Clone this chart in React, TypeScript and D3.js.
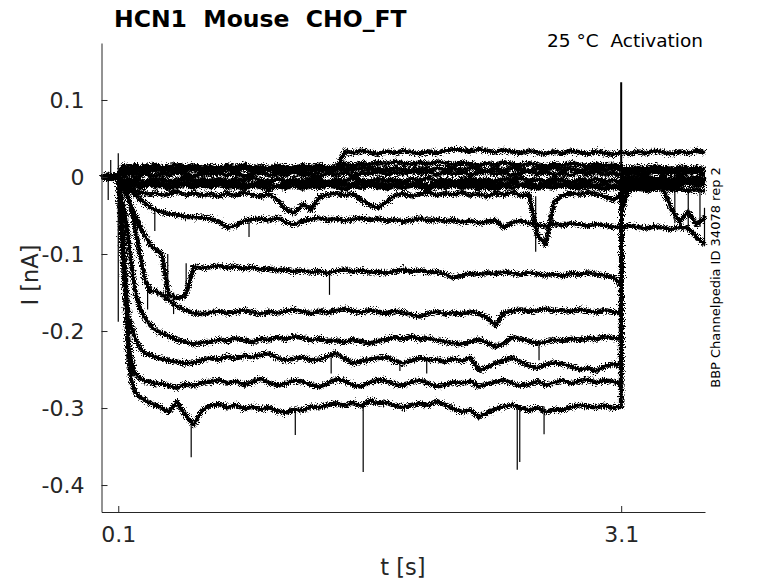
import { useEffect, useRef } from 'react';
import * as d3 from 'd3';

// sample times [s] shared by all sweeps
const time = [
  0, 0.025, 0.05, 0.075, 0.1,
  0.12, 0.14, 0.16, 0.18, 0.2, 0.23, 0.26, 0.29, 0.32, 0.36, 0.4, 0.45, 0.5, 0.55, 0.6,
  0.65, 0.7, 0.75, 0.8, 0.85, 0.9, 0.95, 1.0, 1.05, 1.1,
  1.15, 1.2, 1.25, 1.3, 1.35, 1.4, 1.45, 1.5, 1.55, 1.6,
  1.65, 1.7, 1.75, 1.8, 1.85, 1.9, 1.95, 2.0, 2.05, 2.1,
  2.15, 2.2, 2.25, 2.3, 2.35, 2.4, 2.45, 2.5, 2.55, 2.6,
  2.65, 2.7, 2.75, 2.8, 2.85, 2.9, 2.95, 3.0, 3.05, 3.1,
  3.102, 3.15, 3.2, 3.25, 3.3, 3.35, 3.4, 3.45, 3.5, 3.55, 3.6,
];

// current [nA], one array per sweep
const sweep1 = [
  0.001, -0.002, 0.002, -0.001, 0.0,
  -0.082, -0.147, -0.231, -0.266, -0.279, -0.286, -0.29, -0.294, -0.296, -0.3, -0.305, -0.292, -0.309, -0.322, -0.303,
  -0.297, -0.295, -0.299, -0.296, -0.301, -0.298, -0.302, -0.299, -0.304, -0.306,
  -0.302, -0.303, -0.298, -0.299, -0.296, -0.294, -0.297, -0.293, -0.298, -0.29,
  -0.294, -0.293, -0.297, -0.299, -0.296, -0.294, -0.297, -0.291, -0.296, -0.301,
  -0.305, -0.303, -0.312, -0.306, -0.301, -0.298, -0.296, -0.3, -0.303, -0.299,
  -0.305, -0.302, -0.303, -0.299, -0.296, -0.298, -0.299, -0.297, -0.3, -0.298,
  -0.045, -0.012, -0.008, -0.011, -0.006, -0.009, -0.007, -0.01, -0.005, -0.008, -0.006,
];
const sweep2 = [
  -0.001, 0.002, -0.002, 0.001, 0.0,
  -0.069, -0.14, -0.212, -0.24, -0.255, -0.262, -0.265, -0.266, -0.269, -0.268, -0.271, -0.274, -0.269, -0.271, -0.267,
  -0.266, -0.263, -0.268, -0.265, -0.27, -0.266, -0.262, -0.267, -0.271, -0.268,
  -0.264, -0.266, -0.27, -0.273, -0.268, -0.262, -0.265, -0.27, -0.272, -0.267,
  -0.263, -0.265, -0.269, -0.271, -0.266, -0.264, -0.268, -0.272, -0.27, -0.266,
  -0.268, -0.265, -0.272, -0.269, -0.266, -0.264, -0.268, -0.271, -0.269, -0.265,
  -0.27, -0.267, -0.264, -0.268, -0.265, -0.263, -0.267, -0.264, -0.266, -0.268,
  -0.01, -0.004, -0.007, -0.003, -0.008, -0.005, -0.009, -0.004, -0.007, -0.003, -0.006,
];
const sweep3 = [
  0.0, -0.001, 0.001, -0.002, 0.0,
  -0.049, -0.114, -0.182, -0.195, -0.209, -0.222, -0.229, -0.231, -0.234, -0.236, -0.238, -0.24, -0.242, -0.241, -0.238,
  -0.235, -0.237, -0.233, -0.236, -0.232, -0.234, -0.231, -0.229, -0.235, -0.238,
  -0.236, -0.234, -0.238, -0.237, -0.233, -0.229, -0.236, -0.242, -0.239, -0.237,
  -0.235, -0.234, -0.239, -0.242, -0.238, -0.235, -0.238, -0.237, -0.24, -0.236,
  -0.239, -0.234, -0.251, -0.247, -0.242, -0.238, -0.235, -0.24, -0.245, -0.248,
  -0.244, -0.241, -0.243, -0.246, -0.25, -0.248, -0.252, -0.246, -0.243, -0.244,
  -0.006, -0.003, -0.008, -0.004, -0.006, -0.002, -0.007, -0.005, -0.008, -0.004, -0.006,
];
const sweep4 = [
  0.002, -0.001, 0.0, 0.001, -0.001,
  -0.03, -0.045, -0.078, -0.116, -0.147, -0.171, -0.184, -0.192, -0.199, -0.203, -0.206, -0.212, -0.214, -0.217, -0.215,
  -0.214, -0.211, -0.213, -0.209, -0.212, -0.215, -0.21, -0.212, -0.208, -0.211,
  -0.207, -0.209, -0.212, -0.21, -0.213, -0.212, -0.215, -0.211, -0.214, -0.216,
  -0.213, -0.211, -0.208, -0.21, -0.207, -0.211, -0.209, -0.212, -0.214, -0.216,
  -0.217, -0.214, -0.211, -0.215, -0.221, -0.216, -0.208, -0.21, -0.213, -0.216,
  -0.214, -0.211, -0.213, -0.21, -0.212, -0.209, -0.211, -0.207, -0.209, -0.21,
  -0.004, -0.002, -0.005, -0.001, -0.004, -0.003, -0.006, -0.002, -0.005, -0.003, -0.004,
];
const sweep5 = [
  -0.001, 0.001, -0.001, 0.002, 0.0,
  -0.01, -0.017, -0.026, -0.045, -0.066, -0.101, -0.134, -0.149, -0.148, -0.153, -0.16, -0.168, -0.173, -0.177, -0.178,
  -0.176, -0.174, -0.177, -0.175, -0.173, -0.176, -0.178, -0.175, -0.177, -0.174,
  -0.172, -0.175, -0.177, -0.174, -0.176, -0.173, -0.171, -0.174, -0.176, -0.173,
  -0.175, -0.177, -0.174, -0.176, -0.179, -0.181, -0.177, -0.175, -0.178, -0.176,
  -0.178, -0.175, -0.177, -0.183, -0.193, -0.176, -0.174, -0.172, -0.175, -0.173,
  -0.171, -0.174, -0.173, -0.175, -0.172, -0.174, -0.176, -0.173, -0.175, -0.177,
  -0.003, -0.001, -0.004, 0.0, -0.003, -0.002, -0.005, -0.001, -0.004, -0.002, -0.003,
];
const sweep6 = [
  0.0, 0.002, -0.001, 0.0, 0.001,
  -0.01, -0.019, -0.03, -0.039, -0.049, -0.064, -0.077, -0.088, -0.094, -0.1, -0.153, -0.157, -0.155, -0.116, -0.118,
  -0.117, -0.115, -0.118, -0.116, -0.119, -0.117, -0.12, -0.119, -0.121, -0.12,
  -0.123, -0.121, -0.124, -0.122, -0.125, -0.122, -0.12, -0.123, -0.121, -0.124,
  -0.123, -0.125, -0.122, -0.12, -0.123, -0.121, -0.124, -0.123, -0.126, -0.131,
  -0.128, -0.125, -0.127, -0.124, -0.126, -0.123, -0.125, -0.127, -0.124, -0.126,
  -0.128, -0.126, -0.129, -0.125, -0.127, -0.124, -0.126, -0.128, -0.13, -0.14,
  -0.002, 0.0, -0.003, 0.001, -0.002, -0.001, -0.004, 0.0, -0.003, -0.001, -0.002,
];
const sweep7 = [
  0.001, -0.001, 0.002, 0.0, -0.001,
  -0.006, -0.012, -0.016, -0.019, -0.023, -0.029, -0.034, -0.039, -0.043, -0.045, -0.048, -0.049, -0.052, -0.052, -0.053,
  -0.054, -0.058, -0.066, -0.063, -0.057, -0.055, -0.054, -0.056, -0.053, -0.059,
  -0.062, -0.057, -0.055, -0.053, -0.056, -0.054, -0.057, -0.055, -0.053, -0.056,
  -0.054, -0.057, -0.055, -0.058, -0.056, -0.054, -0.057, -0.055, -0.058, -0.056,
  -0.059, -0.057, -0.06, -0.058, -0.056, -0.066, -0.059, -0.057, -0.06, -0.062,
  -0.064, -0.061, -0.063, -0.06, -0.062, -0.064, -0.061, -0.063, -0.065, -0.064,
  -0.066, -0.063, -0.065, -0.067, -0.064, -0.066, -0.068, -0.065, -0.067, -0.078, -0.088,
];
const sweep8 = [
  0.001, 0.003, -0.001, 0.002, 0.0,
  0.006, 0.009, 0.007, 0.01, 0.008, 0.011, 0.007, 0.009, 0.012, 0.008, 0.01, 0.007, 0.009, 0.011, 0.008,
  0.009, 0.007, 0.01, 0.008, 0.011, 0.009, 0.007, 0.01, 0.008, 0.011,
  0.009, 0.007, 0.01, 0.008, 0.011, 0.009, 0.033, 0.031, 0.034, 0.032,
  0.03, 0.033, 0.031, 0.034, 0.032, 0.03, 0.033, 0.031, 0.034, 0.036,
  0.035, 0.033, 0.036, 0.034, 0.032, 0.035, 0.033, 0.031, 0.034, 0.032,
  0.03, 0.033, 0.031, 0.034, 0.032, 0.03, 0.033, 0.031, 0.029, 0.032,
  0.032, 0.03, 0.033, 0.031, 0.034, 0.032, 0.03, 0.033, 0.031, 0.034, 0.032,
];
const sweep9 = [
  -0.002, 0.001, 0.003, -0.001, 0.002,
  0.012, 0.015, 0.011, 0.014, 0.016, 0.012, 0.015, 0.013, 0.017, 0.012, 0.014, 0.016, 0.013, 0.015, 0.012,
  0.014, 0.011, 0.015, 0.013, 0.016, 0.012, 0.014, 0.011, 0.015, 0.013,
  0.012, 0.015, 0.013, 0.016, 0.012, 0.014, 0.017, 0.015, 0.018, 0.016,
  0.019, 0.017, 0.02, 0.018, 0.016, 0.019, 0.017, 0.02, 0.018, 0.016,
  0.019, 0.017, 0.015, 0.018, 0.016, 0.019, 0.017, 0.015, 0.018, 0.016,
  0.014, 0.017, 0.015, 0.018, 0.016, 0.014, 0.017, 0.015, 0.016, 0.014,
  0.012, 0.01, 0.013, 0.011, 0.014, 0.012, 0.01, 0.013, 0.011, 0.012, 0.01,
];
const sweep10 = [
  0.002, -0.002, 0.001, -0.003, 0.001,
  0.004, 0.001, 0.006, 0.003, 0.005, 0.002, 0.006, 0.003, 0.001, 0.005, 0.002, 0.006, 0.004, 0.001, 0.005,
  0.003, 0.006, 0.002, 0.005, 0.001, 0.004, 0.006, 0.002, 0.005, 0.003,
  0.006, 0.002, 0.004, 0.001, 0.005, 0.003, 0.006, 0.002, 0.005, 0.004,
  0.007, 0.003, 0.006, 0.004, 0.008, 0.005, 0.007, 0.003, 0.006, 0.004,
  0.006, 0.003, 0.005, 0.007, 0.004, 0.006, 0.002, 0.005, 0.007, 0.004,
  0.006, 0.003, 0.005, 0.002, 0.006, 0.004, 0.007, 0.003, 0.005, 0.002,
  0.004, 0.006, 0.003, 0.005, 0.007, 0.004, 0.006, 0.003, 0.005, 0.007, 0.004,
];
const sweep11 = [
  -0.001, 0.002, -0.003, 0.001, -0.002,
  -0.003, -0.006, -0.002, -0.005, -0.001, -0.004, -0.007, -0.003, -0.005, -0.002, -0.006, -0.004, -0.001, -0.005, -0.003,
  -0.005, -0.002, -0.006, -0.003, -0.005, -0.001, -0.004, -0.006, -0.002, -0.005,
  -0.003, -0.006, -0.002, -0.004, -0.007, -0.003, -0.005, -0.001, -0.004, -0.006,
  -0.002, -0.005, -0.003, -0.006, -0.002, -0.004, -0.001, -0.005, -0.003, -0.006,
  -0.004, -0.002, -0.005, -0.003, -0.006, -0.002, -0.004, -0.001, -0.005, -0.003,
  -0.006, -0.002, -0.004, -0.007, -0.003, -0.005, -0.002, -0.006, -0.004, -0.008,
  -0.003, -0.005, -0.002, -0.004, -0.006, -0.003, -0.005, -0.002, -0.004, -0.006, -0.003,
];
const sweep12 = [
  0.001, -0.002, 0.0, -0.001, 0.002,
  -0.008, -0.011, -0.009, -0.013, -0.01, -0.014, -0.012, -0.009, -0.013, -0.011, -0.015, -0.012, -0.01, -0.014, -0.011,
  -0.013, -0.01, -0.014, -0.012, -0.015, -0.011, -0.013, -0.016, -0.012, -0.014,
  -0.011, -0.015, -0.012, -0.014, -0.01, -0.013, -0.016, -0.012, -0.014, -0.011,
  -0.013, -0.015, -0.012, -0.014, -0.011, -0.013, -0.016, -0.012, -0.014, -0.011,
  -0.014, -0.012, -0.015, -0.013, -0.016, -0.012, -0.014, -0.011, -0.013, -0.015,
  -0.012, -0.014, -0.011, -0.013, -0.015, -0.012, -0.014, -0.016, -0.013, -0.015,
  -0.014, -0.012, -0.015, -0.013, -0.011, -0.016, -0.042, -0.058, -0.045, -0.062, -0.052,
];
const sweep13 = [
  -0.001, 0.001, -0.002, 0.002, 0.0,
  -0.006, -0.01, -0.013, -0.016, -0.018, -0.02, -0.021, -0.023, -0.02, -0.024, -0.022, -0.019, -0.023, -0.021, -0.024,
  -0.022, -0.025, -0.021, -0.024, -0.02, -0.023, -0.026, -0.022, -0.03, -0.042,
  -0.047, -0.035, -0.043, -0.026, -0.023, -0.021, -0.024, -0.022, -0.03, -0.036,
  -0.04, -0.032, -0.024, -0.021, -0.025, -0.022, -0.02, -0.024, -0.021, -0.023,
  -0.02, -0.024, -0.022, -0.025, -0.021, -0.023, -0.02, -0.024, -0.022, -0.075,
  -0.088, -0.032, -0.024, -0.021, -0.023, -0.02, -0.022, -0.025, -0.03, -0.022,
  -0.02, -0.017, -0.015, -0.018, -0.016, -0.014, -0.017, -0.015, -0.018, -0.016, -0.019,
];
const sweep14 = [
  0.0, 0.002, -0.001, 0.001, 0.001,
  0.008, 0.01, 0.007, 0.011, 0.009, 0.008, 0.01, 0.012, 0.009, 0.011, 0.008, 0.01, 0.012, 0.009, 0.011,
  0.01, 0.008, 0.011, 0.009, 0.012, 0.008, 0.01, 0.009, 0.011, 0.008,
  0.01, 0.012, 0.009, 0.011, 0.008, 0.01, 0.011, 0.009, 0.012, 0.01,
  0.011, 0.009, 0.012, 0.01, 0.008, 0.011, 0.009, 0.012, 0.01, 0.011,
  0.009, 0.012, 0.01, 0.008, 0.011, 0.009, 0.012, 0.01, 0.008, 0.011,
  0.01, 0.012, 0.009, 0.011, 0.008, 0.01, 0.012, 0.009, 0.011, 0.01,
  0.009, 0.011, 0.008, 0.01, 0.012, 0.009, 0.011, 0.008, 0.01, 0.009, 0.011,
];
const sweep15 = [
  0.001, -0.001, 0.002, -0.002, 0.0,
  -0.006, -0.009, -0.007, -0.01, -0.008, -0.011, -0.009, -0.007, -0.01, -0.008, -0.012, -0.009, -0.007, -0.01, -0.008,
  -0.009, -0.007, -0.01, -0.008, -0.011, -0.009, -0.008, -0.01, -0.012, -0.009,
  -0.008, -0.01, -0.007, -0.009, -0.011, -0.008, -0.01, -0.009, -0.007, -0.01,
  -0.008, -0.011, -0.009, -0.007, -0.01, -0.008, -0.011, -0.009, -0.008, -0.01,
  -0.009, -0.007, -0.01, -0.008, -0.011, -0.009, -0.007, -0.01, -0.008, -0.011,
  -0.009, -0.008, -0.01, -0.012, -0.009, -0.008, -0.011, -0.009, -0.012, -0.01,
  -0.011, -0.009, -0.01, -0.008, -0.011, -0.009, -0.012, -0.01, -0.008, -0.011, -0.009,
];

const sweeps = [
  sweep1, sweep2, sweep3, sweep4, sweep5, sweep6, sweep7, sweep8,
  sweep9, sweep10, sweep11, sweep12, sweep13, sweep14, sweep15,
];

// short transients: [t, I from, I to]
const spikes: [number, number, number][] = [
  [0.04, 0.0, -0.03],
  [0.055, -0.004, 0.022],
  [0.1, 0.031, -0.188],
  [0.275, -0.135, -0.172],
  [0.318, -0.043, -0.07],
  [0.395, -0.1, -0.155],
  [0.43, -0.15, -0.178],
  [0.505, -0.155, -0.112],
  [0.535, -0.315, -0.364],
  [0.88, -0.056, -0.078],
  [1.156, -0.3, -0.335],
  [1.36, -0.122, -0.153],
  [1.37, -0.234, -0.255],
  [1.561, -0.3, -0.383],
  [1.78, -0.24, -0.252],
  [1.94, -0.237, -0.255],
  [2.48, -0.298, -0.38],
  [2.495, -0.298, -0.37],
  [2.59, -0.025, -0.097],
  [2.61, -0.215, -0.238],
  [2.64, -0.298, -0.334],
  [3.1, 0.123, -0.3],
  [3.42, -0.012, -0.06],
  [3.5, -0.015, -0.07],
  [3.57, -0.01, -0.065],
  [3.597, -0.04, -0.09],
];

const xTicks = [0.1, 3.1];
const yTicks = [0.1, 0, -0.1, -0.2, -0.3, -0.4];

const W = 778;
const H = 583;
const FONT = '"DejaVu Sans", sans-serif';
const AXIS = '#262626';

function App() {
  const svgRef = useRef<SVGSVGElement>(null);

  useEffect(() => {
    if (svgRef.current === null) return;
    const svg = d3.select(svgRef.current);
    svg.selectAll('*').remove();

    const x = d3.scaleLinear().domain([0, 3.6]).range([101.5, 705]);
    const y = d3.scaleLinear().domain([-0.435, 0.174]).range([512, 43]);

    svg.append('rect').attr('width', W).attr('height', H).attr('fill', '#fff');

    // rough texture for the recorded traces
    const filter = svg.append('defs').append('filter')
      .attr('id', 'trace-noise')
      .attr('filterUnits', 'userSpaceOnUse')
      .attr('x', 0).attr('y', 0).attr('width', W).attr('height', H);
    filter.append('feTurbulence')
      .attr('type', 'fractalNoise')
      .attr('baseFrequency', '0.9')
      .attr('numOctaves', 2)
      .attr('seed', 7)
      .attr('result', 'n');
    filter.append('feDisplacementMap')
      .attr('in', 'SourceGraphic')
      .attr('in2', 'n')
      .attr('scale', 9)
      .attr('xChannelSelector', 'R')
      .attr('yChannelSelector', 'G');

    const line = d3.line<number>()
      .defined((_, i) => i < time.length)
      .x((_, i) => x(time[i]))
      .y((d) => y(d));

    const traces = svg.append('g');

    traces.append('g')
      .selectAll('path')
      .data(sweeps)
      .enter()
      .append('path')
      .attr('d', (d) => line(d))
      .attr('fill', 'none')
      .attr('stroke', '#000')
      .attr('stroke-width', 2.2)
      .attr('stroke-linejoin', 'round');

    traces.append('g')
      .attr('filter', 'url(#trace-noise)')
      .selectAll('path')
      .data(sweeps)
      .enter()
      .append('path')
      .attr('d', (d) => line(d))
      .attr('fill', 'none')
      .attr('stroke', '#000')
      .attr('stroke-width', 4.6)
      .attr('stroke-linejoin', 'round');

    svg.append('g')
      .selectAll('line')
      .data(spikes)
      .enter()
      .append('line')
      .attr('x1', (d) => x(d[0]))
      .attr('x2', (d) => x(d[0]))
      .attr('y1', (d) => y(d[1]))
      .attr('y2', (d) => y(d[2]))
      .attr('stroke', '#000')
      .attr('stroke-width', (d) => (d[0] === 3.1 ? 2 : 1.2));

    const fmt = (d: d3.NumberValue) => String(+d);

    const yAxis = svg.append('g')
      .attr('transform', `translate(${x(0)},0)`)
      .call(d3.axisLeft(y).tickValues(yTicks).tickSizeInner(-6).tickSizeOuter(0).tickPadding(17).tickFormat(fmt));
    const xAxis = svg.append('g')
      .attr('transform', `translate(0,${y(-0.435)})`)
      .call(d3.axisBottom(x).tickValues(xTicks).tickSizeInner(-6).tickSizeOuter(0).tickPadding(14).tickFormat(fmt));

    [xAxis, yAxis].forEach((g) => {
      g.select('.domain').attr('stroke', AXIS).attr('stroke-width', 1);
      g.selectAll('.tick line').attr('stroke', AXIS).attr('stroke-width', 1);
      g.selectAll('.tick text')
        .attr('fill', AXIS)
        .style('font-family', FONT)
        .style('font-size', '22px');
    });

    svg.append('text')
      .attr('x', 114)
      .attr('y', 26.5)
      .style('font-family', FONT)
      .style('font-size', '23.5px')
      .style('font-weight', 'bold')
      .style('white-space', 'pre')
      .attr('fill', '#000')
      .text('HCN1  Mouse  CHO_FT');

    svg.append('text')
      .attr('x', 703)
      .attr('y', 47.3)
      .attr('text-anchor', 'end')
      .style('font-family', FONT)
      .style('font-size', '18.5px')
      .style('white-space', 'pre')
      .attr('fill', '#000')
      .text('25 °C  Activation');

    svg.append('text')
      .attr('transform', 'translate(719.5,277.5) rotate(-90)')
      .attr('text-anchor', 'middle')
      .style('font-family', FONT)
      .style('font-size', '13px')
      .attr('fill', '#000')
      .text('BBP Channelpedia ID 34078 rep 2');

    svg.append('text')
      .attr('x', 403)
      .attr('y', 575)
      .attr('text-anchor', 'middle')
      .style('font-family', FONT)
      .style('font-size', '22.5px')
      .attr('fill', AXIS)
      .text('t [s]');

    svg.append('text')
      .attr('transform', 'translate(38,275) rotate(-90)')
      .attr('text-anchor', 'middle')
      .style('font-family', FONT)
      .style('font-size', '22.5px')
      .attr('fill', AXIS)
      .text('I [nA]');
  }, []);

  return (
    <svg
      ref={svgRef}
      width={W}
      height={H}
      style={{ position: 'absolute', left: 0, top: 0, display: 'block' }}
    />
  );
}

export default App;
